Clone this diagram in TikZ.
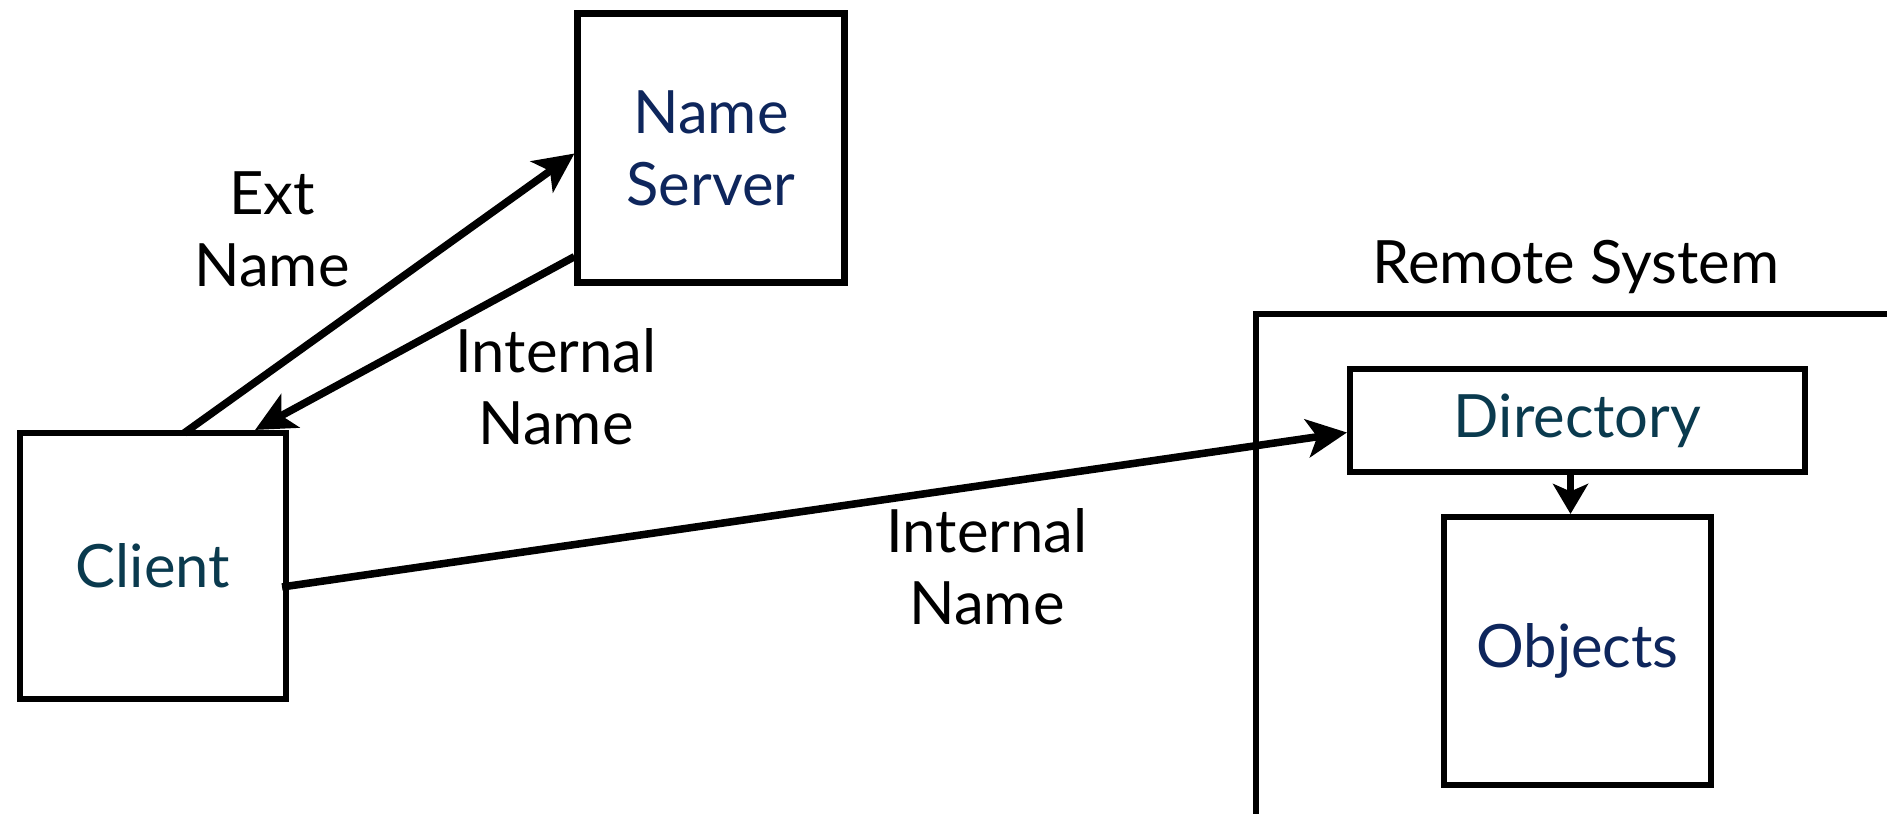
\documentclass[tikz,border=0pt]{standalone}
\usepackage{fontspec}
\setmainfont{Lato}
\usetikzlibrary{arrows.meta,calc}
\definecolor{navy}{RGB}{14,38,92}
\definecolor{teal}{RGB}{10,58,78}
\tikzset{
  box/.style={draw=black,line width=3.5pt,fill=white,inner sep=0pt,align=center,
    font=\fontsize{34}{41}\selectfont},
  lbl/.style={align=center,font=\fontsize{34}{41}\selectfont,inner sep=0pt},
  arr/.style={line width=4.3pt,-{Stealth[length=0.8cm,width=0.76cm,inset=0.2cm]}},
  shortarr/.style={line width=4.3pt,-{Stealth[length=0.6cm,width=0.7cm,inset=0.15cm]}},
}
\begin{document}
\begin{tikzpicture}[x=0.02cm,y=-0.02cm]
\useasboundingbox (0,0) rectangle (1887,814);
\clip (0,0) rectangle (1887,814);

% remote system frame (runs off the right and bottom edges)
\coordinate (rs-bl) at (1256,840);
\coordinate (rs-tl) at (1256,314);
\coordinate (rs-tr) at (1920,314);
\draw[line width=3.3pt] (rs-bl) -- (rs-tl) -- (rs-tr);
\node[lbl] (rs-label) at (1576,267) {Remote System};

% boxes with their labels
\node[box,text=navy,minimum width=5.34cm,minimum height=5.38cm] (ns) at (711,148) {Name\\Server};
\node[box,text=teal,minimum width=5.32cm,minimum height=5.32cm] (client) at (153,566) {Client};
\node[box,text=teal,minimum width=9.1cm,minimum height=2.06cm] (dir) at (1577.5,420.5) {\raisebox{-6pt}{Directory}};
\node[box,text=navy,minimum width=5.34cm,minimum height=5.36cm] (obj) at (1577.5,651) {\raisebox{-12pt}{Objects}};

% connectors
\coordinate (ext-start) at ($(client.north west)!0.615!(client.north east)+(0,3)$);
\coordinate (ext-end) at ($(ns.north west)!0.52!(ns.south west)$);
\draw[arr] (ext-start) -- (ext-end);

\coordinate (int-start) at ($(ns.north west)!0.895!(ns.south west)$);
\coordinate (int-end) at ($(client.north west)!0.875!(client.north east)$);
\draw[arr] (int-start) -- (int-end);

\coordinate (cd-start) at ($(client.east)+(-7,21)$);
\coordinate (cd-end) at ($(dir.west)+(0,12)$);
\draw[arr] (cd-start) -- (cd-end);

\draw[shortarr] ($(dir.south)+(-7,0)$) -- ($(obj.north)+(-7,0)$);

% connector labels
\node[lbl] (ext-lbl) at (272,229) {Ext\\Name};
\node[lbl] (int-lbl) at (556,387) {Internal\\Name};
\node[lbl] (int2-lbl) at (987,567) {Internal\\Name};
\end{tikzpicture}
\end{document}
